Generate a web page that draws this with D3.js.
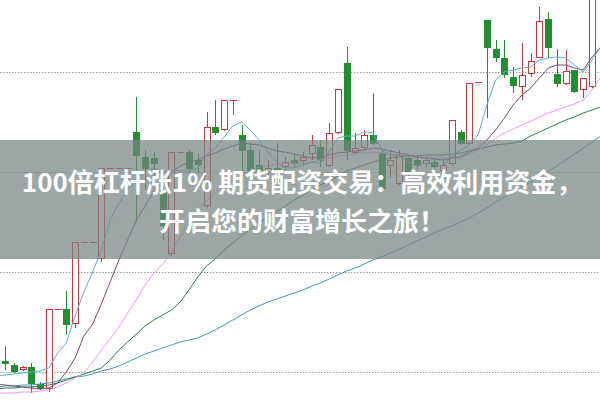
<!DOCTYPE html>
<html><head><meta charset="utf-8">
<script src="https://cdn.jsdelivr.net/npm/d3@7"></script>
<style>html,body{margin:0;padding:0;background:#fff;} svg{display:block;}</style>
</head><body>
<svg id="chart" width="600" height="400"></svg>
<script>
// Candle data (one entry per trading day)
const opens  = [4.11,4.07,4.03,4.05,3.88,3.84,4.63,4.63,4.49,5.30,5.30,5.14,6.04,6.04,6.04,6.40,6.15,6.14,5.82,5.19,6.20,6.20,6.12,5.67,6.45,6.43,6.72,6.37,6.22,6.07,6.00,6.04,6.06,6.12,6.12,6.19,6.25,6.07,6.40,7.09,6.20,6.25,6.37,6.19,6.07,5.89,6.14,6.12,6.09,6.10,6.02,6.09,6.40,6.29,6.90,7.52,7.23,7.14,6.95,6.86,6.99,7.15,7.53,6.98,6.89,7.02,6.83,6.86];
const highs  = [4.26,4.09,4.06,4.09,3.90,4.63,4.63,4.81,5.30,5.30,5.30,6.04,6.04,6.04,6.04,6.75,6.22,6.20,5.85,6.20,6.20,6.22,6.19,6.60,6.72,6.72,6.72,6.47,6.29,6.22,6.12,6.29,6.15,6.17,6.20,6.37,6.32,6.49,6.83,7.25,6.39,6.42,6.79,6.22,6.22,6.22,6.17,6.17,6.15,6.14,6.12,6.52,6.42,6.89,6.90,7.52,7.32,7.32,7.05,7.29,7.19,7.65,7.60,7.23,7.22,7.02,6.94,7.82];
const lows   = [4.02,3.99,4.01,3.79,3.82,3.80,4.63,4.37,4.44,5.30,5.30,5.10,6.04,6.04,6.04,5.50,5.82,5.95,5.32,5.16,6.20,5.99,5.99,5.64,6.37,6.41,6.57,6.00,5.95,5.92,5.94,5.92,6.02,6.04,6.07,6.12,6.05,6.05,6.38,6.12,6.17,6.22,6.27,5.80,5.95,5.87,5.95,6.02,6.05,6.00,6.00,6.06,6.27,6.27,6.90,6.54,7.10,6.94,6.79,6.72,6.95,7.15,7.14,6.85,6.87,6.79,6.74,6.84];
const closes = [4.09,4.01,4.05,3.89,3.84,4.63,4.63,4.48,5.30,5.30,5.30,6.04,6.04,6.04,6.04,6.17,6.04,6.09,5.47,6.20,6.20,6.04,6.08,6.45,6.40,6.72,6.72,6.22,6.02,6.02,6.04,6.00,6.10,6.09,6.15,6.27,6.12,6.39,6.83,6.22,6.24,6.37,6.29,5.84,6.12,6.17,6.00,6.07,6.12,6.06,6.07,6.52,6.29,6.89,6.90,7.25,7.15,6.98,6.87,6.97,7.11,7.51,7.25,6.89,7.01,6.81,6.94,7.77];

// Moving-average lines (first value is one day before the first candle, last one day after)
const ma5  = [3.96,3.97,3.98,3.99,4.00,4.01,4.04,4.19,4.29,4.56,4.80,5.00,5.22,5.52,5.69,5.82,5.94,6.00,6.04,6.00,6.02,6.01,6.01,6.04,6.17,6.24,6.35,6.46,6.50,6.42,6.32,6.20,6.10,6.04,6.04,6.07,6.10,6.09,6.20,6.34,6.36,6.36,6.40,6.39,6.22,6.17,6.16,6.10,6.06,6.09,6.08,6.06,6.16,6.22,6.27,6.37,6.67,6.92,7.00,7.02,7.04,7.05,7.12,7.14,7.15,7.14,7.07,7.00,7.12,7.25];
const ma10 = [3.88,3.87,3.86,3.85,3.84,3.83,3.84,3.89,4.00,4.14,4.36,4.48,4.68,4.90,5.12,5.32,5.52,5.66,5.81,5.90,6.00,6.06,6.10,6.12,6.16,6.19,6.23,6.26,6.29,6.28,6.27,6.24,6.21,6.20,6.18,6.16,6.14,6.15,6.17,6.19,6.20,6.21,6.22,6.24,6.23,6.21,6.19,6.17,6.15,6.14,6.13,6.12,6.14,6.15,6.20,6.24,6.32,6.42,6.54,6.67,6.77,6.84,6.94,7.04,7.07,7.07,7.04,7.02,7.15,7.25];
const ma20 = [3.79,3.79,3.79,3.80,3.80,3.81,3.82,3.85,3.89,3.94,3.99,4.10,4.22,4.33,4.45,4.59,4.72,4.87,4.99,5.08,5.20,5.35,5.50,5.62,5.72,5.79,5.86,5.92,5.96,6.01,6.05,6.06,6.08,6.09,6.09,6.09,6.10,6.12,6.14,6.16,6.17,6.18,6.19,6.20,6.19,6.18,6.17,6.16,6.15,6.14,6.14,6.14,6.14,6.15,6.18,6.22,6.27,6.34,6.39,6.43,6.47,6.51,6.55,6.59,6.62,6.65,6.68,6.72,6.82,6.95];
const ma30 = [3.83,3.84,3.84,3.85,3.85,3.86,3.87,3.89,3.92,3.95,3.98,4.01,4.04,4.12,4.22,4.30,4.38,4.46,4.52,4.57,4.62,4.70,4.82,4.95,5.06,5.13,5.22,5.29,5.36,5.43,5.49,5.55,5.60,5.66,5.72,5.77,5.82,5.87,5.91,5.96,6.01,6.04,6.07,6.10,6.12,6.14,6.15,6.16,6.16,6.17,6.17,6.17,6.18,6.19,6.21,6.23,6.25,6.27,6.28,6.29,6.31,6.36,6.40,6.44,6.48,6.52,6.55,6.59,6.62,6.65];
const ma60 = [3.85,3.86,3.86,3.87,3.87,3.88,3.89,3.91,3.93,3.95,3.96,3.98,4.01,4.03,4.06,4.10,4.14,4.18,4.21,4.24,4.27,4.30,4.32,4.34,4.38,4.42,4.47,4.52,4.57,4.62,4.66,4.70,4.73,4.76,4.79,4.82,4.86,4.89,4.93,4.97,5.01,5.04,5.08,5.12,5.15,5.19,5.23,5.27,5.31,5.35,5.39,5.43,5.46,5.50,5.54,5.59,5.64,5.70,5.75,5.80,5.85,5.90,5.95,6.01,6.06,6.12,6.18,6.24,6.30,6.36];

const gridValues = [4, 5, 6, 7];
const titleLines = ["100倍杠杆涨1% 期货配资交易：高效利用资金，", "开启您的财富增长之旅！"];

const W = 600, H = 400;
const svg = d3.select("#chart");
const x = d3.scaleLinear().domain([0, opens.length - 1]).range([5, 592]);
const y = d3.scaleLinear().domain([3.72, 7.72]).range([H, 0]);

const RED = "#d2333b", GREEN = "#1f8f2f";

// grid
svg.append("g").selectAll("line").data(gridValues).join("line")
  .attr("x1", 0).attr("x2", W)
  .attr("y1", d => Math.round(y(d)) + 0.5).attr("y2", d => Math.round(y(d)) + 0.5)
  .attr("stroke", "#9a9a9a").attr("stroke-width", 1).attr("stroke-dasharray", "1.5,1.5");

// candles
const candles = opens.map((o, i) => ({i, o, h: highs[i], l: lows[i], c: closes[i]}));
const cg = svg.append("g");
candles.forEach(d => {
  const up = d.c >= d.o;
  const col = up ? RED : GREEN;
  const cx = Math.round(x(d.i)) + 0.5;
  cg.append("line").attr("x1", cx).attr("x2", cx)
    .attr("y1", y(d.h)).attr("y2", y(d.l)).attr("stroke", col).attr("stroke-width", 1);
  const top = y(Math.max(d.o, d.c)), bot = y(Math.min(d.o, d.c));
  const hgt = Math.max(bot - top, 0);
  if (hgt < 1) {
    cg.append("line").attr("x1", cx - 3.5).attr("x2", cx + 3.5)
      .attr("y1", Math.round(top) + 0.5).attr("y2", Math.round(top) + 0.5)
      .attr("stroke", col).attr("stroke-width", 1);
  } else {
    cg.append("rect").attr("x", cx - 3).attr("y", Math.round(top) + 0.5)
      .attr("width", 6).attr("height", Math.max(1, Math.round(hgt)))
      .attr("fill", up ? "#ffffff" : col).attr("stroke", col).attr("stroke-width", 1);
  }
});

// moving averages
const maLine = d3.line().x((d, k) => x(k - 1)).y(d => y(d));
const maSeries = [
  {v: ma60, c: "#3f9ba8"},
  {v: ma30, c: "#2f7a45"},
  {v: ma20, c: "#e59be6"},
  {v: ma10, c: "#7a4a78"},
  {v: ma5,  c: "#58b4c8"}
];
svg.append("g").selectAll("path").data(maSeries).join("path")
  .attr("d", d => maLine(d.v)).attr("fill", "none")
  .attr("stroke", d => d.c).attr("stroke-width", 1);

// banner
svg.append("rect").attr("x", 0).attr("y", 140).attr("width", W).attr("height", 119)
  .attr("fill", "rgb(118,132,130)").attr("fill-opacity", 0.72);

svg.append("g").selectAll("text").data(titleLines).join("text")
  .attr("x", 302).attr("y", (d, k) => 192 + k * 39)
  .attr("text-anchor", "middle")
  .attr("font-family", "'Noto Sans CJK SC', 'Noto Sans', sans-serif")
  .attr("font-weight", 700).attr("font-size", 26)
  .attr("fill", "#ffffff")
  .text(d => d);
</script>
</body></html>
